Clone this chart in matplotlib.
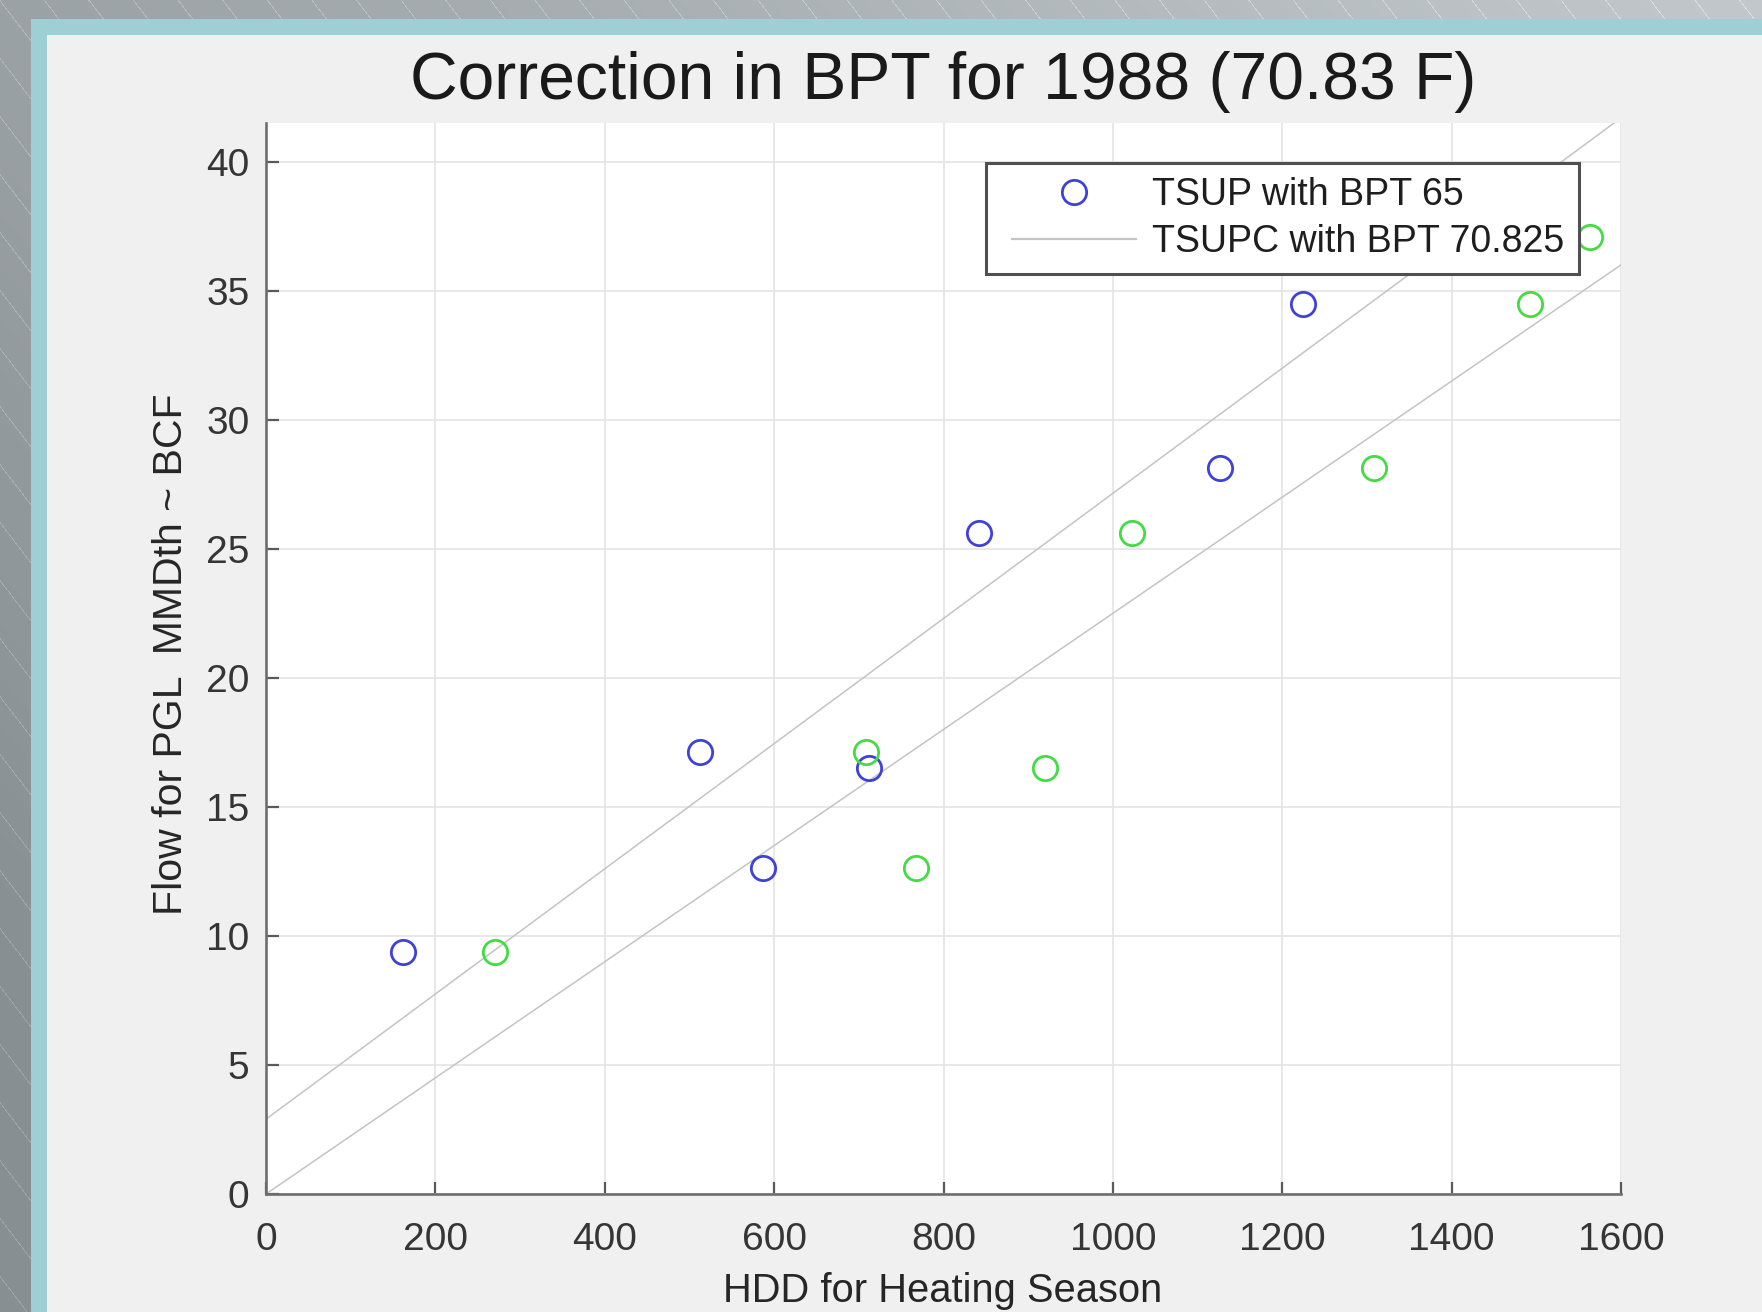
import numpy as np
import matplotlib
matplotlib.use("Agg")
import matplotlib.pyplot as plt
from matplotlib.patches import Rectangle
from matplotlib.lines import Line2D
from matplotlib.legend_handler import HandlerLine2D

# ---------------- data ----------------
tsup_x = [162, 513, 587, 712, 842, 1126, 1225, 1330]
tsup_y = [9.37, 17.12, 12.64, 16.51, 25.62, 28.15, 34.47, 37.10]
tsupc_x = [270, 708, 768, 920, 1023, 1308, 1492, 1563]
tsupc_y = [9.37, 17.12, 12.64, 16.51, 25.62, 28.15, 34.47, 37.10]
fit_x = [0, 1600]
fit_upper_y = [2.9, 41.7]
fit_lower_y = [0.0, 36.0]
x_ticks = [0, 200, 400, 600, 800, 1000, 1200, 1400, 1600]
y_ticks = [0, 5, 10, 15, 20, 25, 30, 35, 40]
labels = ["TSUP with BPT 65", "TSUPC with BPT 70.825"]
title = "Correction in BPT for 1988 (70.83 F)"
xlabel = "HDD for Heating Season"
ylabel = "Flow for PGL  MMDth ~ BCF"

plt.rcParams['font.family'] = ['Liberation Sans', 'DejaVu Sans']

W, H = 1762, 1312
fig = plt.figure(figsize=(W / 100, H / 100), dpi=100)

# ---------------- background (slide texture) ----------------
bg = fig.add_axes([0, 0, 1, 1], zorder=-10)
yy, xx = np.mgrid[0:H, 0:W].astype(float)
t = np.clip((xx / W) * 0.6 + (1 - yy / H) * 0.4 - 0.1, 0, 1)
c0 = np.array([0x88, 0x8f, 0x92]) / 255.0
c1 = np.array([0xc8, 0xce, 0xd1]) / 255.0
img = c0[None, None, :] * (1 - t[..., None]) + c1[None, None, :] * t[..., None]
stripe = ((yy - 1.3 * xx) % 58.0) < 1.6
img[stripe] = np.clip(img[stripe] + 0.09, 0, 1)
bg.imshow(img, aspect='auto', extent=[0, 1, 0, 1], interpolation='bilinear')
bg.set_axis_off()

fig.add_artist(Rectangle((31 / W, 0), 1, 1 - 19 / H, transform=fig.transFigure,
                         facecolor='#9dcfd4', edgecolor='none', zorder=-9))
fig.add_artist(Rectangle((47 / W, 0), 1, 1 - 35 / H, transform=fig.transFigure,
                         facecolor='#f0f0f0', edgecolor='none', zorder=-8))

# ---------------- main axes ----------------
left, right, bottom, top = 266 / W, 1621 / W, 1 - 1194 / H, 1 - 123 / H
ax = fig.add_axes([left, bottom, right - left, top - bottom])
ax.set_facecolor('white')

ms = 17.5
ax.plot(fit_x, fit_upper_y, color='#c4c4c4', lw=1.1, zorder=2)
ax.plot(fit_x, fit_lower_y, color='#c4c4c4', lw=1.1, zorder=2)
ax.plot(tsup_x, tsup_y, linestyle='none', marker='o', markersize=ms,
        markerfacecolor='none', markeredgecolor='#4040dc', markeredgewidth=2.0, zorder=3)
ax.plot(tsupc_x, tsupc_y, linestyle='none', marker='o', markersize=ms,
        markerfacecolor='none', markeredgecolor='#44dc44', markeredgewidth=2.0, zorder=3)

ax.set_xlim(0, 1600)
ax.set_ylim(0, 41.5)
ax.set_xticks(x_ticks)
ax.set_yticks(y_ticks)
ax.grid(True, color='#e4e4e4', lw=1.2)
ax.set_axisbelow(True)
for s in ['top', 'right']:
    ax.spines[s].set_visible(False)
for s in ['left', 'bottom']:
    ax.spines[s].set_color('#6e6e6e')
    ax.spines[s].set_linewidth(1.9)
ax.tick_params(direction='in', length=9, width=1.6, color='#5a5a5a',
               labelsize=28, labelcolor='#353535')
ax.tick_params(axis='x', pad=20)
ax.tick_params(axis='y', pad=12)

h1 = Line2D([], [], linestyle='none', marker='o', markersize=ms,
            markerfacecolor='none', markeredgecolor='#4040dc', markeredgewidth=2.0)
h2 = Line2D([], [], color='#c4c4c4', lw=1.6)
leg = ax.legend([h1, h2], labels, loc='upper right', bbox_to_anchor=(0.969, 0.963),
                fontsize=27, frameon=True, fancybox=False, framealpha=1,
                edgecolor='#505050', facecolor='white', handlelength=3.62,
                handletextpad=0.45, borderpad=0.38, labelspacing=0.3, borderaxespad=0,
                handler_map={Line2D: HandlerLine2D(xpad=0.33)})
leg.get_frame().set_linewidth(2.2)
leg.set_zorder(10)
for txt in leg.get_texts():
    txt.set_color('#1e1e1e')

fig.text(943 / W, 1 - 82 / H, title, ha='center', va='center', fontsize=47.5, color='#1a1a1a')
fig.text(943 / W, 1 - 1302 / H, xlabel, ha='center', va='baseline', fontsize=28.7, color='#262626')
fig.text(171 / W, 1 - 654 / H, ylabel, ha='center', va='center', rotation=90,
         fontsize=29.5, color='#262626')

fig.savefig('out.png', dpi=100)
